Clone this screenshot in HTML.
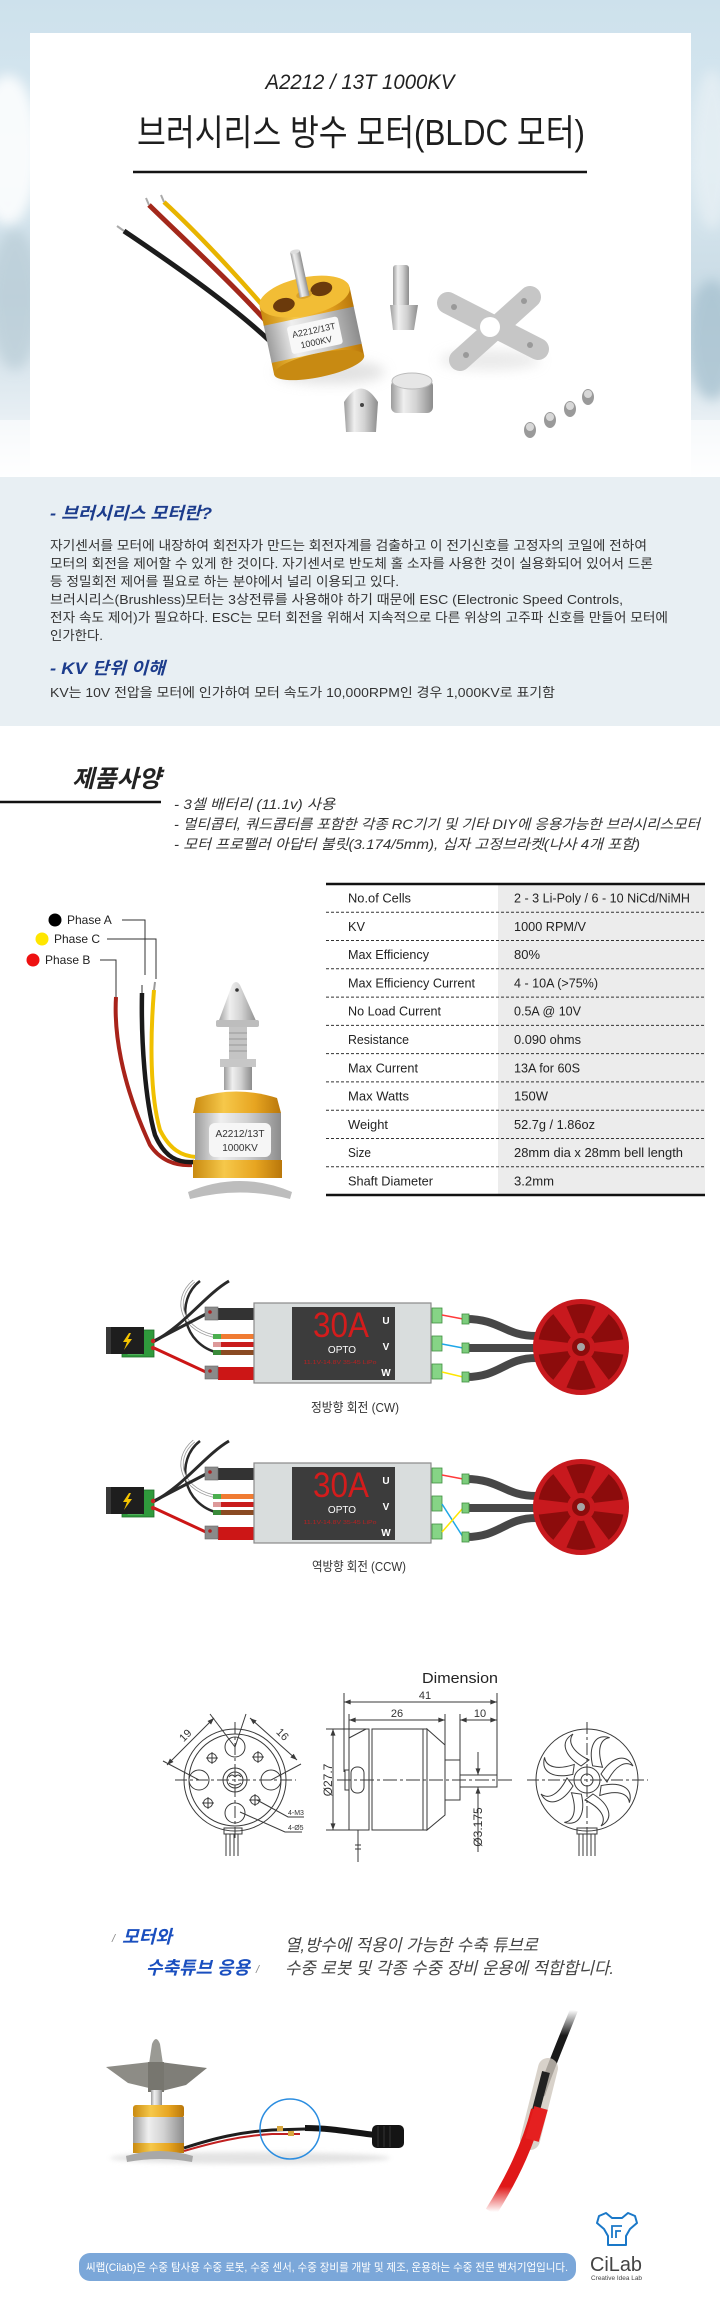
<!DOCTYPE html>
<html><head><meta charset="utf-8"><style>
html,body{margin:0;padding:0;background:#fff;}
svg{display:block;}
text{font-family:"Liberation Sans","Noto Sans CJK KR",sans-serif;}
</style></head><body>
<svg width="720" height="2317" viewBox="0 0 720 2317" xmlns="http://www.w3.org/2000/svg">
<defs>
<linearGradient id="bgTop" x1="0" y1="0" x2="0" y2="1">
<stop offset="0" stop-color="#cde1ec"/><stop offset="0.35" stop-color="#d9e8f0"/><stop offset="0.62" stop-color="#c9dbe5"/><stop offset="0.86" stop-color="#e6eef3"/><stop offset="1" stop-color="#ffffff"/></linearGradient>
<linearGradient id="gold" x1="0" y1="0" x2="1" y2="0"><stop offset="0" stop-color="#c98a10"/><stop offset="0.35" stop-color="#f6c84a"/><stop offset="0.7" stop-color="#e7a521"/><stop offset="1" stop-color="#b9770a"/></linearGradient>
<linearGradient id="silver" x1="0" y1="0" x2="1" y2="0"><stop offset="0" stop-color="#9c9c9c"/><stop offset="0.3" stop-color="#efefef"/><stop offset="0.6" stop-color="#d2d2d2"/><stop offset="1" stop-color="#8c8c8c"/></linearGradient>
<linearGradient id="fadeTop" x1="0" y1="0" x2="0" y2="1"><stop offset="0" stop-color="#1a1a1a" stop-opacity="0"/><stop offset="0.3" stop-color="#1a1a1a" stop-opacity="1"/></linearGradient>
<linearGradient id="fadeBot" x1="0" y1="0" x2="0" y2="1"><stop offset="0" stop-color="#e01818"/><stop offset="0.75" stop-color="#e01818"/><stop offset="1" stop-color="#e01818" stop-opacity="0"/></linearGradient>
<filter id="blur" x="-50%" y="-50%" width="200%" height="200%"><feGaussianBlur stdDeviation="6"/></filter>
<filter id="blur2" x="-50%" y="-50%" width="200%" height="200%"><feGaussianBlur stdDeviation="2.5"/></filter>
<marker id="arr" viewBox="0 0 8 6" refX="8" refY="3" markerWidth="7" markerHeight="5" markerUnits="userSpaceOnUse" orient="auto-start-reverse"><path d="M0,0 L8,3 L0,6 z" fill="#3a3a3a"/></marker>
</defs>

<!-- TOP BACKGROUND -->
<rect x="0" y="0" width="720" height="480" fill="url(#bgTop)"/>
<ellipse cx="8" cy="150" rx="30" ry="75" fill="#ffffff" opacity="0.85" filter="url(#blur)"/>
<ellipse cx="15" cy="300" rx="25" ry="70" fill="#b9ccd6" opacity="0.7" filter="url(#blur)"/>
<ellipse cx="712" cy="340" rx="25" ry="60" fill="#a8c2d0" opacity="0.8" filter="url(#blur)"/>
<ellipse cx="712" cy="150" rx="20" ry="80" fill="#e9f1f5" opacity="0.7" filter="url(#blur)"/>
<rect x="0" y="420" width="720" height="60" fill="#ffffff" opacity="0.6"/>
<rect x="30" y="33" width="661" height="444" fill="#ffffff"/>

<text x="360" y="89" font-size="21" font-style="italic" fill="#222" text-anchor="middle" textLength="189" lengthAdjust="spacingAndGlyphs">A2212 / 13T 1000KV</text>
<text x="137" y="145" font-size="36" fill="#1e1e1e" textLength="448" lengthAdjust="spacingAndGlyphs">브러시리스 방수 모터(BLDC 모터)</text>
<line x1="133" y1="172" x2="587" y2="172" stroke="#141414" stroke-width="2.5"/>

<!-- top product photo -->
<ellipse cx="330" cy="372" rx="55" ry="12" fill="#cfcfcf" opacity="0.6" filter="url(#blur)"/>
<ellipse cx="490" cy="360" rx="50" ry="10" fill="#d5d5d5" opacity="0.5" filter="url(#blur)"/>
<path d="M124,231 C170,262 240,310 281,352" stroke="#1c1c1c" stroke-width="5" fill="none"/>
<path d="M149,205 C190,245 250,300 285,343" stroke="#a3281b" stroke-width="5" fill="none"/>
<path d="M164,202 C205,240 255,295 290,338" stroke="#e8b400" stroke-width="4.5" fill="none"/>
<line x1="117" y1="226" x2="124" y2="231" stroke="#aaa" stroke-width="2"/>
<line x1="146" y1="198" x2="149" y2="205" stroke="#aaa" stroke-width="2"/>
<line x1="161" y1="195" x2="164" y2="202" stroke="#aaa" stroke-width="2"/>
<g transform="translate(310,322) rotate(-12)">
 <rect x="-46" y="30" width="92" height="14" fill="url(#gold)"/>
 <ellipse cx="0" cy="44" rx="46" ry="12" fill="#c88a12"/>
 <rect x="-46" y="-8" width="92" height="40" fill="url(#silver)"/>
 <rect x="-46" y="-26" width="92" height="20" fill="url(#gold)"/>
 <ellipse cx="0" cy="-26" rx="46" ry="19" fill="#f2bd35"/>
 <ellipse cx="-22" cy="-22" rx="11" ry="7" fill="#6b3a0c"/>
 <ellipse cx="18" cy="-30" rx="11" ry="7" fill="#6b3a0c"/>
 <ellipse cx="0" cy="-28" rx="8" ry="4" fill="#d9a22a"/>
 <rect x="-5" y="-72" width="10" height="46" fill="url(#silver)"/>
 <ellipse cx="0" cy="-72" rx="5" ry="2" fill="#ddd"/>
 <rect x="-24" y="0" width="52" height="28" rx="3" fill="#f8f8f8"/>
 <text x="2" y="12" font-size="9" font-family="Liberation Serif,serif" fill="#333" text-anchor="middle">A2212/13T</text>
 <text x="2" y="24" font-size="9" font-family="Liberation Serif,serif" fill="#333" text-anchor="middle">1000KV</text>
</g>
<rect x="393" y="265" width="16" height="42" rx="3" fill="url(#silver)"/>
<polygon points="390,305 418,305 414,330 393,330" fill="url(#silver)"/>
<g transform="translate(490,327)">
 <line x1="-42" y1="-24" x2="48" y2="22" stroke="#c6c6c6" stroke-width="22" stroke-linecap="round"/>
 <line x1="40" y1="-30" x2="-30" y2="33" stroke="#c6c6c6" stroke-width="22" stroke-linecap="round"/>
 <circle r="10" fill="#fff"/>
 <circle cx="-36" cy="-20" r="3" fill="#999"/><circle cx="40" cy="18" r="3" fill="#999"/><circle cx="34" cy="-26" r="3" fill="#999"/><circle cx="-24" cy="28" r="3" fill="#999"/>
</g>
<path d="M346,432 L344,402 Q361,375 378,402 L376,432 Z" fill="url(#silver)"/>
<circle cx="362" cy="405" r="2" fill="#444"/>
<rect x="391" y="380" width="42" height="33" rx="6" fill="url(#silver)"/>
<ellipse cx="412" cy="381" rx="20" ry="8" fill="#e6e6e6" stroke="#bbb"/>
<g fill="#9a9a9a"><ellipse cx="530" cy="430" rx="6" ry="8"/><ellipse cx="550" cy="420" rx="6" ry="8"/><ellipse cx="570" cy="409" rx="6" ry="8"/><ellipse cx="588" cy="397" rx="6" ry="8"/></g>
<g fill="#d8d8d8"><ellipse cx="530" cy="427" rx="4" ry="4"/><ellipse cx="550" cy="417" rx="4" ry="4"/><ellipse cx="570" cy="406" rx="4" ry="4"/><ellipse cx="588" cy="394" rx="4" ry="4"/></g>

<!-- INFO BOX -->
<rect x="0" y="477" width="720" height="249" fill="#e8eff3"/>
<text x="50" y="519" font-size="17" font-weight="700" font-style="italic" fill="#1c3c8c" textLength="162" lengthAdjust="spacingAndGlyphs">- 브러시리스 모터란?</text>
<g font-size="13" fill="#333">
<text x="50" y="550" textLength="597" lengthAdjust="spacingAndGlyphs">자기센서를 모터에 내장하여 회전자가 만드는 회전자계를 검출하고 이 전기신호를 고정자의 코일에 전하여</text>
<text x="50" y="568" textLength="603" lengthAdjust="spacingAndGlyphs">모터의 회전을 제어할 수 있게 한 것이다. 자기센서로 반도체 홀 소자를 사용한 것이 실용화되어 있어서 드론</text>
<text x="50" y="586" textLength="349" lengthAdjust="spacingAndGlyphs">등 정밀회전 제어를 필요로 하는 분야에서 널리 이용되고 있다.</text>
<text x="50" y="604" textLength="573" lengthAdjust="spacingAndGlyphs">브러시리스(Brushless)모터는 3상전류를 사용해야 하기 때문에 ESC (Electronic Speed Controls,</text>
<text x="50" y="622" textLength="618" lengthAdjust="spacingAndGlyphs">전자 속도 제어)가 필요하다. ESC는 모터 회전을 위해서 지속적으로 다른 위상의 고주파 신호를 만들어 모터에</text>
<text x="50" y="640" textLength="53" lengthAdjust="spacingAndGlyphs">인가한다.</text>
</g>
<text x="50" y="674" font-size="17" font-weight="700" font-style="italic" fill="#1c3c8c" textLength="115" lengthAdjust="spacingAndGlyphs">- KV 단위 이해</text>
<text x="50" y="697" font-size="13" fill="#333" textLength="505" lengthAdjust="spacingAndGlyphs">KV는 10V 전압을 모터에 인가하여 모터 속도가 10,000RPM인 경우 1,000KV로 표기함</text>

<!-- SPEC -->
<text x="72" y="787" font-size="24" font-weight="700" font-style="italic" fill="#222" textLength="89" lengthAdjust="spacingAndGlyphs">제품사양</text>
<line x1="0" y1="802" x2="161" y2="802" stroke="#111" stroke-width="2.5"/>
<g font-size="14" font-style="italic" fill="#333">
<text x="174" y="809" textLength="161" lengthAdjust="spacingAndGlyphs">- 3셀 배터리 (11.1v) 사용</text>
<text x="174" y="829" textLength="526" lengthAdjust="spacingAndGlyphs">- 멀티콥터, 쿼드콥터를 포함한 각종 RC기기 및 기타 DIY에 응용가능한 브러시리스모터</text>
<text x="174" y="849" textLength="466" lengthAdjust="spacingAndGlyphs">- 모터 프로펠러 아답터 불릿(3.174/5mm), 십자 고정브라켓(나사 4개 포함)</text>
</g>

<!-- phase labels -->
<circle cx="55" cy="920" r="6.5" fill="#000"/>
<circle cx="42" cy="939" r="6.5" fill="#ffe600"/>
<circle cx="33" cy="960" r="6.5" fill="#ee1111"/>
<g font-size="12" fill="#222">
<text x="67" y="924">Phase A</text><text x="54" y="943">Phase C</text><text x="45" y="964">Phase B</text>
</g>
<g stroke="#333" stroke-width="1" fill="none">
<path d="M122,920 H145 V975"/><path d="M107,939 H156 V979"/><path d="M100,960 H116 V993"/>
</g>
<!-- vertical motor photo -->
<path d="M116,997 C114,1030 120,1080 150,1145 C160,1160 175,1166 192,1165" stroke="#a8231a" stroke-width="4" fill="none"/>
<path d="M142,993 C141,1040 145,1100 155,1135 C165,1158 178,1163 194,1162" stroke="#1a1a1a" stroke-width="4.5" fill="none"/>
<path d="M154,990 C150,1040 150,1095 160,1130 C170,1150 182,1156 196,1157" stroke="#f0c000" stroke-width="4" fill="none"/>
<line x1="116" y1="989" x2="116" y2="997" stroke="#999" stroke-width="2"/>
<line x1="142" y1="985" x2="142" y2="993" stroke="#999" stroke-width="2"/>
<line x1="155" y1="982" x2="154" y2="990" stroke="#999" stroke-width="2"/>
<path d="M218,1023 L232,985 Q236,979 240,985 L257,1023 Z" fill="url(#silver)"/>
<circle cx="237" cy="990" r="1.8" fill="#333"/>
<rect x="216" y="1020" width="43" height="7" rx="2" fill="#bdbdbd"/>
<rect x="229" y="1027" width="18" height="33" fill="#c4c4c4"/>
<g stroke="#888" stroke-width="0.8"><line x1="229" y1="1033" x2="247" y2="1033"/><line x1="229" y1="1039" x2="247" y2="1039"/><line x1="229" y1="1045" x2="247" y2="1045"/><line x1="229" y1="1051" x2="247" y2="1051"/></g>
<rect x="220" y="1059" width="36" height="8" fill="#c7c7c7"/>
<rect x="224" y="1067" width="28" height="23" fill="url(#silver)"/>
<path d="M193,1113 L196,1098 Q236,1085 277,1098 L281,1113 Z" fill="url(#gold)"/>
<rect x="195" y="1113" width="86" height="47" fill="url(#silver)"/>
<rect x="209" y="1123" width="62" height="34" rx="6" fill="#f6f6f6"/>
<text x="240" y="1137" font-size="10" font-family="Liberation Serif,serif" fill="#333" text-anchor="middle">A2212/13T</text>
<text x="240" y="1151" font-size="10" font-family="Liberation Serif,serif" fill="#333" text-anchor="middle">1000KV</text>
<rect x="193" y="1160" width="89" height="18" fill="url(#gold)"/>
<path d="M188,1192 Q240,1170 292,1192 L290,1199 Q240,1186 190,1199 Z" fill="#bdbdbd"/>

<!-- TABLE -->
<rect x="498" y="884" width="207" height="311" fill="#ececec"/>
<g stroke="#333" stroke-width="1" stroke-dasharray="3,2">
<line x1="326" y1="912.3" x2="705" y2="912.3"/><line x1="326" y1="940.5" x2="705" y2="940.5"/><line x1="326" y1="968.8" x2="705" y2="968.8"/><line x1="326" y1="997.1" x2="705" y2="997.1"/><line x1="326" y1="1025.4" x2="705" y2="1025.4"/><line x1="326" y1="1053.6" x2="705" y2="1053.6"/><line x1="326" y1="1081.9" x2="705" y2="1081.9"/><line x1="326" y1="1110.2" x2="705" y2="1110.2"/><line x1="326" y1="1138.5" x2="705" y2="1138.5"/><line x1="326" y1="1166.7" x2="705" y2="1166.7"/>
</g>
<line x1="326" y1="884" x2="705" y2="884" stroke="#111" stroke-width="2.5"/>
<line x1="326" y1="1195" x2="705" y2="1195" stroke="#111" stroke-width="2.5"/>
<g font-size="13" fill="#222">
<text x="348" y="902.6" textLength="63" lengthAdjust="spacingAndGlyphs">No.of Cells</text>
<text x="348" y="930.9" textLength="17" lengthAdjust="spacingAndGlyphs">KV</text>
<text x="348" y="959.2" textLength="81" lengthAdjust="spacingAndGlyphs">Max Efficiency</text>
<text x="348" y="987.4" textLength="127" lengthAdjust="spacingAndGlyphs">Max Efficiency Current</text>
<text x="348" y="1015.7" textLength="93" lengthAdjust="spacingAndGlyphs">No Load Current</text>
<text x="348" y="1044" textLength="61" lengthAdjust="spacingAndGlyphs">Resistance</text>
<text x="348" y="1072.3" textLength="70" lengthAdjust="spacingAndGlyphs">Max Current</text>
<text x="348" y="1100.5" textLength="61" lengthAdjust="spacingAndGlyphs">Max Watts</text>
<text x="348" y="1128.8" textLength="40" lengthAdjust="spacingAndGlyphs">Weight</text>
<text x="348" y="1157.1" textLength="23" lengthAdjust="spacingAndGlyphs">Size</text>
<text x="348" y="1185.4" textLength="85" lengthAdjust="spacingAndGlyphs">Shaft Diameter</text>
<text x="514" y="902.6" textLength="176" lengthAdjust="spacingAndGlyphs">2 - 3 Li-Poly / 6 - 10 NiCd/NiMH</text>
<text x="514" y="930.9" textLength="72" lengthAdjust="spacingAndGlyphs">1000 RPM/V</text>
<text x="514" y="959.2" textLength="26" lengthAdjust="spacingAndGlyphs">80%</text>
<text x="514" y="987.4" textLength="84" lengthAdjust="spacingAndGlyphs">4 - 10A (&gt;75%)</text>
<text x="514" y="1015.7" textLength="67" lengthAdjust="spacingAndGlyphs">0.5A @ 10V</text>
<text x="514" y="1044" textLength="67" lengthAdjust="spacingAndGlyphs">0.090 ohms</text>
<text x="514" y="1072.3" textLength="66" lengthAdjust="spacingAndGlyphs">13A for 60S</text>
<text x="514" y="1100.5" textLength="34" lengthAdjust="spacingAndGlyphs">150W</text>
<text x="514" y="1128.8" textLength="81" lengthAdjust="spacingAndGlyphs">52.7g / 1.86oz</text>
<text x="514" y="1157.1" textLength="169" lengthAdjust="spacingAndGlyphs">28mm dia x 28mm bell length</text>
<text x="514" y="1185.4" textLength="40" lengthAdjust="spacingAndGlyphs">3.2mm</text>
</g>

<!-- ESC 1 -->
<g>
 <path d="M200,1281 C175,1300 182,1345 219,1353" stroke="#2a2a2a" stroke-width="2.5" fill="none"/>
 <path d="M194,1281 C171,1300 182,1332 219,1337" stroke="#9a9a9a" stroke-width="3.2" fill="none"/>
 <path d="M194,1281 C171,1300 182,1332 219,1337" stroke="#fff" stroke-width="1.6" fill="none"/>
 <path d="M153,1342 C185,1325 205,1295 229,1281" stroke="#2a2a2a" stroke-width="3" fill="none"/>
 <line x1="154" y1="1341" x2="208" y2="1313" stroke="#2a2a2a" stroke-width="3"/>
 <line x1="154" y1="1348" x2="208" y2="1373" stroke="#cc1616" stroke-width="3"/>
 <rect x="122" y="1330" width="32" height="27" fill="#2f9a3c" stroke="#1e6e28" stroke-width="0.8"/>
 <path d="M128,1350 h14 v4 h-14z" fill="none" stroke="#8fd08f" stroke-width="0.8"/>
 <rect x="106" y="1327" width="38" height="27" fill="#1e1e1e"/>
 <rect x="106" y="1327" width="5" height="27" fill="#383838"/>
 <polygon points="129,1333 123,1342 127,1342 124,1350 132,1339 128,1339 131,1333" fill="#f5c400"/>
 <circle cx="153" cy="1341" r="2.2" fill="#c22"/><circle cx="153" cy="1348" r="2.2" fill="#c22"/>
 <rect x="218" y="1308" width="36" height="12" fill="#333"/>
 <rect x="205" y="1307" width="13" height="13" fill="#8a8a8a" stroke="#666" stroke-width="0.6"/>
 <circle cx="210" cy="1312" r="1.8" fill="#a22"/>
 <rect x="218" y="1367" width="36" height="13" fill="#cc1616"/>
 <rect x="205" y="1366" width="13" height="13" fill="#8a8a8a" stroke="#666" stroke-width="0.6"/>
 <circle cx="210" cy="1371" r="1.8" fill="#a22"/>
 <rect x="213" y="1334" width="41" height="5" fill="#f07b32"/><rect x="213" y="1334" width="8" height="5" fill="#4caf50"/>
 <rect x="213" y="1342" width="41" height="5" fill="#c91d1d"/><rect x="213" y="1342" width="8" height="5" fill="#d99"/>
 <rect x="213" y="1350" width="41" height="5" fill="#8a4a22"/><rect x="213" y="1350" width="8" height="5" fill="#3a8a3a"/>
 <rect x="254" y="1303" width="177" height="80" fill="#d9dddd" stroke="#8a8a8a" stroke-width="1.2"/>
 <rect x="292" y="1307" width="103" height="73" fill="#3c3c3c"/>
 <text x="341" y="1337" font-size="35" fill="#d41c1c" text-anchor="middle" textLength="56" lengthAdjust="spacingAndGlyphs">30A</text>
 <text x="342" y="1353" font-size="10" fill="#fff" text-anchor="middle">OPTO</text>
 <text x="340" y="1364" font-size="5.5" fill="#b52222" text-anchor="middle" textLength="73" lengthAdjust="spacingAndGlyphs">11.1V-14.8V 35-45 LiPo</text>
 <g font-size="10" font-weight="700" fill="#fff" text-anchor="middle"><text x="386" y="1324">U</text><text x="386" y="1350">V</text><text x="386" y="1376">W</text></g>
 <g fill="#86d486" stroke="#3f8f3f" stroke-width="0.8"><rect x="432" y="1308" width="10" height="15"/><rect x="432" y="1336" width="10" height="15"/><rect x="432" y="1364" width="10" height="15"/></g>
 <path d="M466,1319 C500,1319 505,1336 536,1336" stroke="#474747" stroke-width="8" fill="none"/>
 <path d="M466,1348 H536" stroke="#474747" stroke-width="8" fill="none"/>
 <path d="M466,1377 C500,1377 505,1358 536,1358" stroke="#474747" stroke-width="8" fill="none"/>
 <line x1="442" y1="1315" x2="463" y2="1319" stroke="#ff3a3a" stroke-width="1.5"/>
 <line x1="442" y1="1344" x2="463" y2="1348" stroke="#1ea7e8" stroke-width="1.5"/>
 <line x1="442" y1="1372" x2="463" y2="1377" stroke="#ffe600" stroke-width="1.5"/>
 <g fill="#7ccc7c" stroke="#3f8f3f" stroke-width="0.8"><rect x="462" y="1314" width="7" height="10"/><rect x="462" y="1343" width="7" height="10"/><rect x="462" y="1372" width="7" height="10"/></g>
 <g transform="translate(581,1347)">
  <circle r="48" fill="#c8191e"/>
  <circle r="43" fill="#8c0c0c"/>
  <g fill="#c8191e">
   <path d="M-4,-12 L-8,-46 L8,-46 L4,-12 Z" transform="rotate(30)"/><path d="M-4,-12 L-8,-46 L8,-46 L4,-12 Z" transform="rotate(90)"/><path d="M-4,-12 L-8,-46 L8,-46 L4,-12 Z" transform="rotate(150)"/><path d="M-4,-12 L-8,-46 L8,-46 L4,-12 Z" transform="rotate(210)"/><path d="M-4,-12 L-8,-46 L8,-46 L4,-12 Z" transform="rotate(270)"/><path d="M-4,-12 L-8,-46 L8,-46 L4,-12 Z" transform="rotate(330)"/>
  </g>
  <circle r="14" fill="#c8191e"/><circle r="9" fill="#8c0c0c"/><circle r="4" fill="#a5a5a5"/>
 </g>
 <text x="311" y="1412" font-size="13" fill="#333" textLength="88" lengthAdjust="spacingAndGlyphs">정방향 회전 (CW)</text>
</g>

<!-- ESC 2 -->
<g transform="translate(0,160)">
 <path d="M200,1281 C175,1300 182,1345 219,1353" stroke="#2a2a2a" stroke-width="2.5" fill="none"/>
 <path d="M194,1281 C171,1300 182,1332 219,1337" stroke="#9a9a9a" stroke-width="3.2" fill="none"/>
 <path d="M194,1281 C171,1300 182,1332 219,1337" stroke="#fff" stroke-width="1.6" fill="none"/>
 <path d="M153,1342 C185,1325 205,1295 229,1281" stroke="#2a2a2a" stroke-width="3" fill="none"/>
 <line x1="154" y1="1341" x2="208" y2="1313" stroke="#2a2a2a" stroke-width="3"/>
 <line x1="154" y1="1348" x2="208" y2="1373" stroke="#cc1616" stroke-width="3"/>
 <rect x="122" y="1330" width="32" height="27" fill="#2f9a3c" stroke="#1e6e28" stroke-width="0.8"/>
 <path d="M128,1350 h14 v4 h-14z" fill="none" stroke="#8fd08f" stroke-width="0.8"/>
 <rect x="106" y="1327" width="38" height="27" fill="#1e1e1e"/>
 <rect x="106" y="1327" width="5" height="27" fill="#383838"/>
 <polygon points="129,1333 123,1342 127,1342 124,1350 132,1339 128,1339 131,1333" fill="#f5c400"/>
 <circle cx="153" cy="1341" r="2.2" fill="#c22"/><circle cx="153" cy="1348" r="2.2" fill="#c22"/>
 <rect x="218" y="1308" width="36" height="12" fill="#333"/>
 <rect x="205" y="1307" width="13" height="13" fill="#8a8a8a" stroke="#666" stroke-width="0.6"/>
 <circle cx="210" cy="1312" r="1.8" fill="#a22"/>
 <rect x="218" y="1367" width="36" height="13" fill="#cc1616"/>
 <rect x="205" y="1366" width="13" height="13" fill="#8a8a8a" stroke="#666" stroke-width="0.6"/>
 <circle cx="210" cy="1371" r="1.8" fill="#a22"/>
 <rect x="213" y="1334" width="41" height="5" fill="#f07b32"/><rect x="213" y="1334" width="8" height="5" fill="#4caf50"/>
 <rect x="213" y="1342" width="41" height="5" fill="#c91d1d"/><rect x="213" y="1342" width="8" height="5" fill="#d99"/>
 <rect x="213" y="1350" width="41" height="5" fill="#8a4a22"/><rect x="213" y="1350" width="8" height="5" fill="#3a8a3a"/>
 <rect x="254" y="1303" width="177" height="80" fill="#d9dddd" stroke="#8a8a8a" stroke-width="1.2"/>
 <rect x="292" y="1307" width="103" height="73" fill="#3c3c3c"/>
 <text x="341" y="1337" font-size="35" fill="#d41c1c" text-anchor="middle" textLength="56" lengthAdjust="spacingAndGlyphs">30A</text>
 <text x="342" y="1353" font-size="10" fill="#fff" text-anchor="middle">OPTO</text>
 <text x="340" y="1364" font-size="5.5" fill="#b52222" text-anchor="middle" textLength="73" lengthAdjust="spacingAndGlyphs">11.1V-14.8V 35-45 LiPo</text>
 <g font-size="10" font-weight="700" fill="#fff" text-anchor="middle"><text x="386" y="1324">U</text><text x="386" y="1350">V</text><text x="386" y="1376">W</text></g>
 <g fill="#86d486" stroke="#3f8f3f" stroke-width="0.8"><rect x="432" y="1308" width="10" height="15"/><rect x="432" y="1336" width="10" height="15"/><rect x="432" y="1364" width="10" height="15"/></g>
 <path d="M466,1319 C500,1319 505,1336 536,1336" stroke="#474747" stroke-width="8" fill="none"/>
 <path d="M466,1348 H536" stroke="#474747" stroke-width="8" fill="none"/>
 <path d="M466,1377 C500,1377 505,1358 536,1358" stroke="#474747" stroke-width="8" fill="none"/>
 <line x1="442" y1="1315" x2="463" y2="1319" stroke="#ff3a3a" stroke-width="1.5"/>
 <line x1="442" y1="1344" x2="463" y2="1377" stroke="#1ea7e8" stroke-width="1.5"/>
 <line x1="442" y1="1372" x2="463" y2="1348" stroke="#ffe600" stroke-width="1.5"/>
 <g fill="#7ccc7c" stroke="#3f8f3f" stroke-width="0.8"><rect x="462" y="1314" width="7" height="10"/><rect x="462" y="1343" width="7" height="10"/><rect x="462" y="1372" width="7" height="10"/></g>
 <g transform="translate(581,1347)">
  <circle r="48" fill="#c8191e"/>
  <circle r="43" fill="#8c0c0c"/>
  <g fill="#c8191e">
   <path d="M-4,-12 L-8,-46 L8,-46 L4,-12 Z" transform="rotate(30)"/><path d="M-4,-12 L-8,-46 L8,-46 L4,-12 Z" transform="rotate(90)"/><path d="M-4,-12 L-8,-46 L8,-46 L4,-12 Z" transform="rotate(150)"/><path d="M-4,-12 L-8,-46 L8,-46 L4,-12 Z" transform="rotate(210)"/><path d="M-4,-12 L-8,-46 L8,-46 L4,-12 Z" transform="rotate(270)"/><path d="M-4,-12 L-8,-46 L8,-46 L4,-12 Z" transform="rotate(330)"/>
  </g>
  <circle r="14" fill="#c8191e"/><circle r="9" fill="#8c0c0c"/><circle r="4" fill="#a5a5a5"/>
 </g>
 <text x="312" y="1411" font-size="13" fill="#333" textLength="94" lengthAdjust="spacingAndGlyphs">역방향 회전 (CCW)</text>
</g>

<!-- DIMENSION DRAWING -->
<text x="422" y="1683" font-size="15" fill="#222" textLength="76" lengthAdjust="spacingAndGlyphs">Dimension</text>
<g stroke="#3a3a3a" stroke-width="1" fill="none">
 <line x1="344" y1="1693" x2="344" y2="1772"/>
 <line x1="497" y1="1693" x2="497" y2="1787"/>
 <line x1="344" y1="1702" x2="497" y2="1702" marker-start="url(#arr)" marker-end="url(#arr)"/>
 <line x1="349" y1="1714" x2="349" y2="1729"/>
 <line x1="445" y1="1714" x2="445" y2="1745"/>
 <line x1="349" y1="1720" x2="445" y2="1720" marker-start="url(#arr)" marker-end="url(#arr)"/>
 <line x1="460" y1="1714" x2="460" y2="1775"/>
 <line x1="460" y1="1720" x2="497" y2="1720" marker-start="url(#arr)" marker-end="url(#arr)"/>
 <rect x="349" y="1729" width="20" height="101"/>
 <line x1="349" y1="1738" x2="366" y2="1729"/>
 <rect x="372" y="1729" width="55" height="101"/>
 <line x1="423" y1="1729" x2="423" y2="1830"/>
 <polygon points="427,1729 445,1745 445,1815 427,1830"/>
 <rect x="445" y="1760" width="15" height="40"/>
 <rect x="460" y="1775" width="37" height="12"/>
 <rect x="351" y="1767" width="13" height="26" rx="6"/>
 <rect x="345" y="1770" width="4" height="20"/>
 <line x1="337" y1="1780" x2="512" y2="1780" stroke-dasharray="14,3,3,3"/>
 <line x1="326" y1="1729" x2="349" y2="1729"/>
 <line x1="326" y1="1830" x2="349" y2="1830"/>
 <line x1="333" y1="1729" x2="333" y2="1830" marker-start="url(#arr)" marker-end="url(#arr)"/>
 <line x1="358" y1="1830" x2="358" y2="1862"/>
 <line x1="355" y1="1845" x2="361" y2="1845"/><line x1="355" y1="1849" x2="361" y2="1849"/>
 <line x1="478" y1="1752" x2="478" y2="1775" marker-end="url(#arr)"/>
 <line x1="478" y1="1852" x2="478" y2="1787" marker-end="url(#arr)"/>
 <!-- front view -->
 <circle cx="235" cy="1780" r="51"/>
 <circle cx="235" cy="1780" r="46"/>
 <circle cx="235" cy="1747" r="10"/><circle cx="235" cy="1813" r="10"/><circle cx="199" cy="1780" r="10"/><circle cx="271" cy="1780" r="10"/>
 <circle cx="212" cy="1758" r="4.5"/><circle cx="258" cy="1757" r="4.5"/><circle cx="208" cy="1803" r="4.5"/><circle cx="255" cy="1800" r="4.5"/>
 <path d="M206,1758 h12 M212,1752 v12 M252,1757 h12 M258,1751 v12 M202,1803 h12 M208,1797 v12 M249,1800 h12 M255,1794 v12"/>
 <circle cx="235" cy="1780" r="12"/><circle cx="235" cy="1780" r="8"/>
 <path d="M229,1777 q3,-4 6,0 q3,-4 6,0 M229,1783 q6,4 12,0"/>
 <line x1="175" y1="1780" x2="296" y2="1780" stroke-dasharray="12,3,3,3"/>
 <line x1="235" y1="1722" x2="235" y2="1838" stroke-dasharray="12,3,3,3"/>
 <line x1="167" y1="1765" x2="214" y2="1718" marker-start="url(#arr)" marker-end="url(#arr)"/>
 <line x1="163" y1="1761" x2="199" y2="1780"/><line x1="210" y1="1714" x2="235" y2="1747"/>
 <line x1="250" y1="1718" x2="297" y2="1760" marker-start="url(#arr)" marker-end="url(#arr)"/>
 <line x1="246" y1="1714" x2="235" y2="1747"/><line x1="301" y1="1764" x2="271" y2="1780"/>
 <polyline points="257,1800 288,1817 304,1817"/>
 <polyline points="240,1812 285,1832 302,1832"/>
 <rect x="224" y="1828" width="18" height="6"/>
 <path d="M226,1834 v22 M230,1834 v22 M234,1834 v22 M238,1834 v22"/>
 <!-- back view -->
 <circle cx="587" cy="1780" r="51"/>
 <circle cx="587" cy="1780" r="13"/><circle cx="587" cy="1780" r="6"/>
 <line x1="527" y1="1780" x2="648" y2="1780" stroke-dasharray="12,3,3,3"/>
 <line x1="587" y1="1722" x2="587" y2="1840" stroke-dasharray="12,3,3,3"/>
 <g transform="translate(587,1780)">
  <path d="M14,-6 C24,-22 38,-28 46,-14 C38,-20 28,-14 20,2 Z"/>
  <path d="M14,-6 C24,-22 38,-28 46,-14 C38,-20 28,-14 20,2 Z" transform="rotate(45)"/>
  <path d="M14,-6 C24,-22 38,-28 46,-14 C38,-20 28,-14 20,2 Z" transform="rotate(90)"/>
  <path d="M14,-6 C24,-22 38,-28 46,-14 C38,-20 28,-14 20,2 Z" transform="rotate(135)"/>
  <path d="M14,-6 C24,-22 38,-28 46,-14 C38,-20 28,-14 20,2 Z" transform="rotate(180)"/>
  <path d="M14,-6 C24,-22 38,-28 46,-14 C38,-20 28,-14 20,2 Z" transform="rotate(225)"/>
  <path d="M14,-6 C24,-22 38,-28 46,-14 C38,-20 28,-14 20,2 Z" transform="rotate(270)"/>
  <path d="M14,-6 C24,-22 38,-28 46,-14 C38,-20 28,-14 20,2 Z" transform="rotate(315)"/>
 </g>
 <rect x="577" y="1828" width="20" height="6"/>
 <path d="M579,1834 v22 M583,1834 v22 M587,1834 v22 M591,1834 v22 M595,1834 v22"/>
</g>
<g font-size="11" fill="#333" text-anchor="middle">
 <text x="425" y="1699">41</text><text x="397" y="1717">26</text><text x="480" y="1717">10</text>
 <text transform="translate(332,1780) rotate(-90)" font-size="12">Ø27.7</text>
 <text transform="translate(482,1827) rotate(-90)" font-size="12">Ø3.175</text>
 <text transform="translate(188,1738) rotate(-45)">19</text>
 <text transform="translate(280,1737) rotate(45)">16</text>
</g>
<text x="288" y="1815" font-size="7" fill="#333">4-M3</text>
<text x="288" y="1830" font-size="7" fill="#333">4-Ø5</text>

<!-- APPLICATION TEXT -->
<text x="112" y="1942" font-size="11" font-style="italic" fill="#888">/</text>
<text x="122" y="1943" font-size="18" font-weight="700" font-style="italic" fill="#1a4fbf" textLength="50" lengthAdjust="spacingAndGlyphs">모터와</text>
<text x="146" y="1974" font-size="18" font-weight="700" font-style="italic" fill="#1a4fbf" textLength="104" lengthAdjust="spacingAndGlyphs">수축튜브 응용</text>
<text x="256" y="1973" font-size="11" font-style="italic" fill="#888">/</text>
<text x="285" y="1951" font-size="17" font-style="italic" fill="#444" textLength="253" lengthAdjust="spacingAndGlyphs">열,방수에 적용이 가능한 수축 튜브로</text>
<text x="285" y="1974" font-size="17" font-style="italic" fill="#444" textLength="329" lengthAdjust="spacingAndGlyphs">수중 로봇 및 각종 수중 장비 운용에 적합합니다.</text>

<!-- bottom left photo -->
<ellipse cx="250" cy="2158" rx="140" ry="6" fill="#d8d8d8" opacity="0.7" filter="url(#blur2)"/>
<polygon points="106,2067 150,2062 153,2089 128,2083" fill="#8d8c86"/>
<polygon points="160,2062 207,2068 186,2085 162,2091" fill="#7f7e78"/>
<path d="M149,2064 L152,2044 Q156,2034 160,2044 L163,2064 Z" fill="#9a9a94"/>
<rect x="148" y="2062" width="16" height="30" fill="#77766f"/>
<rect x="151" y="2090" width="11" height="16" fill="url(#silver)"/>
<rect x="133" y="2105" width="51" height="13" rx="3" fill="url(#gold)"/>
<rect x="133" y="2117" width="51" height="26" fill="url(#silver)"/>
<rect x="133" y="2143" width="51" height="10" fill="url(#gold)"/>
<path d="M126,2156 Q160,2146 193,2156 L192,2162 Q160,2156 127,2162 Z" fill="#a8a8a8"/>
<path d="M184,2148 C215,2138 240,2132 272,2130 L305,2129" stroke="#1e1e1e" stroke-width="3" fill="none"/>
<path d="M184,2151 C215,2142 240,2136 272,2134 L300,2134" stroke="#c02020" stroke-width="2" fill="none"/>
<rect x="277" y="2126" width="6" height="5" fill="#d8a840"/><rect x="288" y="2131" width="6" height="5" fill="#d8a840"/>
<path d="M305,2128 C330,2128 350,2132 375,2135" stroke="#151515" stroke-width="6" fill="none"/>
<rect x="372" y="2125" width="32" height="23" rx="5" fill="#141414"/>
<path d="M378,2126 v21 M384,2126 v21 M390,2126 v21" stroke="#333" stroke-width="1"/>
<circle cx="290" cy="2129" r="30" fill="none" stroke="#2b8de0" stroke-width="1.5"/>

<!-- right photo wire -->
<path d="M574,2010 C562,2040 550,2068 541,2095" stroke="url(#fadeTop)" stroke-width="8" fill="none"/>
<path d="M548,2068 L530,2140" stroke="#cfc7bd" stroke-width="20" stroke-linecap="round" opacity="0.8"/>
<path d="M546,2072 L536,2110" stroke="#222" stroke-width="8"/>
<path d="M537,2110 C527,2150 508,2185 491,2212" stroke="url(#fadeBot)" stroke-width="12" fill="none"/>
<path d="M541,2108 L532,2140" stroke="#e52020" stroke-width="14"/>

<!-- banner -->
<rect x="79" y="2253" width="497" height="28" rx="11" fill="#7ba7d9"/>
<text x="86" y="2271" font-size="11" fill="#fff" textLength="482" lengthAdjust="spacingAndGlyphs">씨랩(Cilab)은 수중 탐사용 수중 로봇, 수중 센서, 수중 장비를 개발 및 제조, 운용하는 수중 전문 벤처기업입니다.</text>

<!-- logo -->
<path d="M599,2216 L606,2213 L612,2218 L622,2218 L628,2213 L635,2216 L637,2223 L630,2229 L626,2236 L626,2245 L608,2245 L608,2236 L604,2229 L597,2223 Z" fill="none" stroke="#1a78c8" stroke-width="2" stroke-linejoin="round"/>
<path d="M612,2238 L612,2226 L622,2226 M616,2238 L616,2231 L621,2231" fill="none" stroke="#1a78c8" stroke-width="1.8"/>
<text x="590" y="2271" font-size="20" fill="#444" textLength="52" lengthAdjust="spacingAndGlyphs">CiLab</text>
<text x="591" y="2280" font-size="6.5" fill="#444" textLength="51" lengthAdjust="spacingAndGlyphs">Creative Idea Lab</text>
</svg>
</body></html>
